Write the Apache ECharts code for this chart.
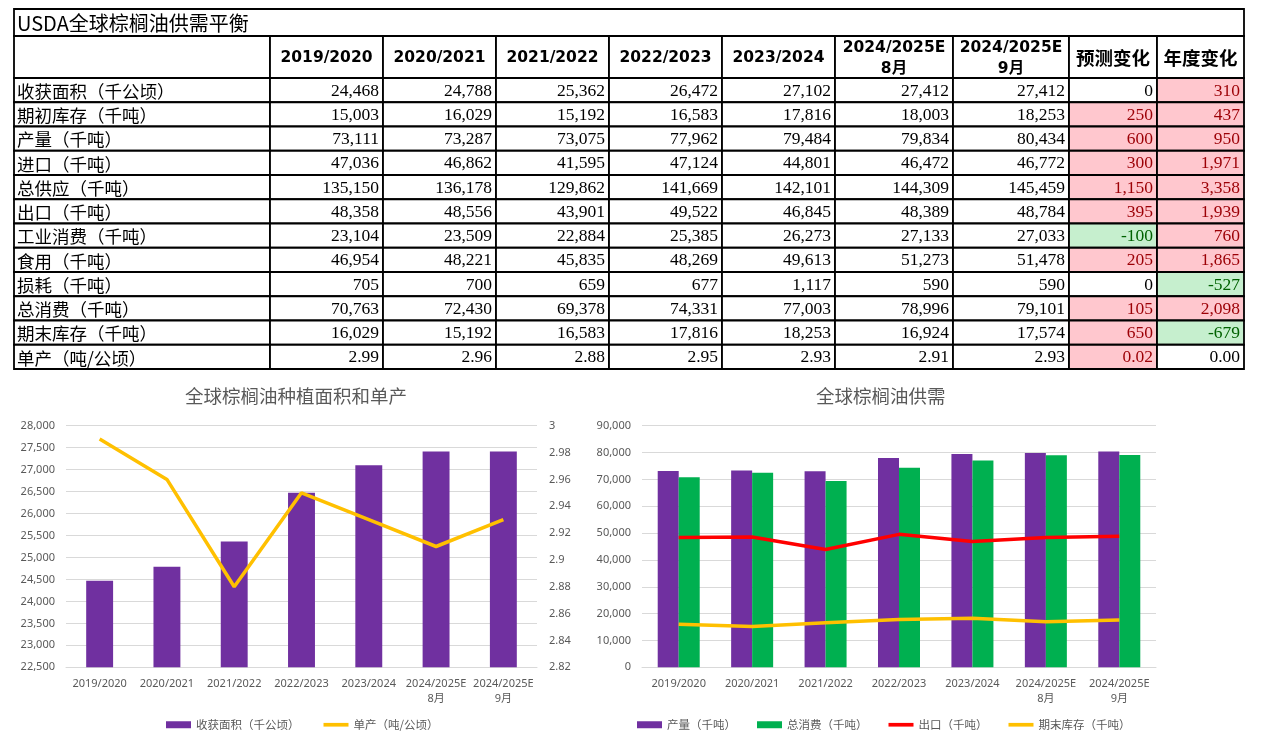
<!DOCTYPE html>
<html>
<head>
<meta charset="utf-8">
<script src="https://cdn.jsdelivr.net/npm/echarts@6/dist/echarts.min.js"></script>
<style>
html,body{margin:0;padding:0;background:#fff;}
#c{width:1263px;height:742px;}
</style>
</head>
<body>
<div id="c"></div>
<script>
// ---------------- data ----------------
const tableTitle = 'USDA全球棕榈油供需平衡';
const years = ['2019/2020', '2020/2021', '2021/2022', '2022/2023', '2023/2024', '2024/2025E\n8月', '2024/2025E\n9月'];
const changeHeaders = ['预测变化', '年度变化'];
const rowLabels = ['收获面积（千公顷）', '期初库存（千吨）', '产量（千吨）', '进口（千吨）', '总供应（千吨）', '出口（千吨）',
  '工业消费（千吨）', '食用（千吨）', '损耗（千吨）', '总消费（千吨）', '期末库存（千吨）', '单产（吨/公顷）'];
const area = [24468, 24788, 25362, 26472, 27102, 27412, 27412];
const beginStock = [15003, 16029, 15192, 16583, 17816, 18003, 18253];
const production = [73111, 73287, 73075, 77962, 79484, 79834, 80434];
const imports = [47036, 46862, 41595, 47124, 44801, 46472, 46772];
const totalSupply = [135150, 136178, 129862, 141669, 142101, 144309, 145459];
const exportsT = [48358, 48556, 43901, 49522, 46845, 48389, 48784];
const industrial = [23104, 23509, 22884, 25385, 26273, 27133, 27033];
const food = [46954, 48221, 45835, 48269, 49613, 51273, 51478];
const loss = [705, 700, 659, 677, 1117, 590, 590];
const totalConsumption = [70763, 72430, 69378, 74331, 77003, 78996, 79101];
const endStock = [16029, 15192, 16583, 17816, 18253, 16924, 17574];
const yieldPerHa = [2.99, 2.96, 2.88, 2.95, 2.93, 2.91, 2.93];
const forecastChange = [0, 250, 600, 300, 1150, 395, -100, 205, 0, 105, 650, 0.02];
const annualChange = [310, 437, 950, 1971, 3358, 1939, 760, 1865, -527, 2098, -679, 0.00];

const chart1Title = '全球棕榈油种植面积和单产';
const chart2Title = '全球棕榈油供需';
const chart1Legend = ['收获面积（千公顷）', '单产（吨/公顷）'];
const chart2Legend = ['产量（千吨）', '总消费（千吨）', '出口（千吨）', '期末库存（千吨）'];

// ---------------- table layout ----------------
const tableRows = [area, beginStock, production, imports, totalSupply, exportsT, industrial, food, loss, totalConsumption, endStock, yieldPerHa];
const COL_X = [14, 270, 383, 496, 609, 722, 835, 953, 1069, 1157, 1244];
const ROW_Y = [9, 36, 78];
for (let i = 1; i <= 12; i++) ROW_Y.push(78 + i * 24.25);

const CJK = '"Noto Sans CJK SC", sans-serif';
const NUMF = '"Liberation Serif", "Noto Sans CJK SC", serif';
const HEADF = '"DejaVu Sans", "Noto Sans CJK SC", sans-serif';

function fmt(v, dec) {
  if (dec) return v.toFixed(2);
  const s = Math.abs(v).toString().replace(/\B(?=(\d{3})+(?!\d))/g, ',');
  return (v < 0 ? '-' : '') + s;
}
function changeStyle(v) {
  if (v > 0) return { bg: '#FFC7CE', color: '#9C0006' };
  if (v < 0) return { bg: '#C6EFCE', color: '#006100' };
  return { bg: '#FFFFFF', color: '#000000' };
}

const cells = [];
cells.push({ box: [COL_X[0], ROW_Y[0], COL_X[10], ROW_Y[1]], text: tableTitle, align: 'left', size: 20, family: CJK, weight: 'normal', color: '#000', bg: '#fff' });
cells.push({ box: [COL_X[0], ROW_Y[1], COL_X[1], ROW_Y[2]], text: '', align: 'center', size: 16, family: HEADF, weight: 'bold', color: '#000', bg: '#fff' });
years.forEach((y, i) => {
  cells.push({ box: [COL_X[i + 1], ROW_Y[1], COL_X[i + 2], ROW_Y[2]], text: y, align: 'center', size: 15.5, family: HEADF, weight: 'bold', color: '#000', bg: '#fff', lh: 21 });
});
changeHeaders.forEach((h, i) => {
  cells.push({ box: [COL_X[i + 8], ROW_Y[1], COL_X[i + 9], ROW_Y[2]], text: h, align: 'center', size: 18.5, family: CJK, weight: 'bold', color: '#000', bg: '#fff' });
});
tableRows.forEach((row, r) => {
  const y0 = ROW_Y[r + 2], y1 = ROW_Y[r + 3];
  const dec = r === 11;
  cells.push({ box: [COL_X[0], y0, COL_X[1], y1], text: rowLabels[r], align: 'left', size: 17.5, family: CJK, weight: 'normal', color: '#000', bg: '#fff' });
  row.forEach((v, i) => {
    cells.push({ box: [COL_X[i + 1], y0, COL_X[i + 2], y1], text: fmt(v, dec), align: 'right', size: 17.5, family: NUMF, weight: 'normal', color: '#000', bg: '#fff' });
  });
  [forecastChange[r], annualChange[r]].forEach((v, k) => {
    const st = changeStyle(v);
    cells.push({ box: [COL_X[k + 8], y0, COL_X[k + 9], y1], text: fmt(v, dec), align: 'right', size: 17.5, family: NUMF, weight: 'normal', color: st.color, bg: st.bg });
  });
});

function renderCell(params, api) {
  const cell = cells[params.dataIndex];
  const p0 = api.coord([api.value(0), api.value(1)]);
  const p1 = api.coord([api.value(2), api.value(3)]);
  let tx;
  if (cell.align === 'left') tx = p0[0] + 3;
  else if (cell.align === 'right') tx = p1[0] - 4;
  else tx = (p0[0] + p1[0]) / 2;
  return {
    type: 'group',
    children: [
      { type: 'rect', shape: { x: p0[0], y: p0[1], width: p1[0] - p0[0], height: p1[1] - p0[1] },
        style: { fill: cell.bg, stroke: '#000', lineWidth: 1.8 } },
      { type: 'text', style: { text: cell.text, x: tx, y: (p0[1] + p1[1]) / 2 + 1, fill: cell.color,
        fontSize: cell.size, fontFamily: cell.family, fontWeight: cell.weight,
        align: cell.align, verticalAlign: 'middle', lineHeight: cell.lh || cell.size * 1.2 } }
    ]
  };
}

// ---------------- chart ----------------
const GRAY = '#595959';
const GRID_LINE = '#D9D9D9';
const AXF = '"Noto Sans", "Noto Sans CJK SC", sans-serif';
const LINE_ICON = 'path://M0,0H27V4H0Z';
const comma = v => String(v).replace(/\B(?=(\d{3})+(?!\d))/g, ',');

const catAxis = (gi) => ({
  type: 'category', gridIndex: gi, data: years,
  axisLine: { show: true, lineStyle: { color: GRID_LINE, width: 1 } },
  axisTick: { show: false },
  axisLabel: { color: GRAY, fontSize: 11, fontFamily: AXF, lineHeight: 15, margin: 9, interval: 0 }
});

const chart = echarts.init(document.getElementById('c'), null, { renderer: 'canvas' });
chart.setOption({
  animation: false,
  backgroundColor: '#fff',
  title: [
    { text: chart1Title, left: 185, top: 387, padding: 0,
      textStyle: { fontSize: 18.5, fontWeight: 'normal', color: GRAY, fontFamily: CJK } },
    { text: chart2Title, left: 816, top: 387, padding: 0,
      textStyle: { fontSize: 18.5, fontWeight: 'normal', color: GRAY, fontFamily: CJK } }
  ],
  legend: [
    { data: [{ name: chart1Legend[0], icon: 'rect' }, { name: chart1Legend[1], icon: LINE_ICON }], left: 166, top: 719,
      itemWidth: 25, itemHeight: 7, itemGap: 24, padding: 0, symbolKeepAspect: true,
      textStyle: { fontSize: 11.5, color: GRAY, fontFamily: CJK } },
    { data: [{ name: chart2Legend[0], icon: 'rect' }, { name: chart2Legend[1], icon: 'rect' },
             { name: chart2Legend[2], icon: LINE_ICON }, { name: chart2Legend[3], icon: LINE_ICON }],
      left: 637, top: 719, itemWidth: 25, itemHeight: 7, itemGap: 21, padding: 0, symbolKeepAspect: true,
      textStyle: { fontSize: 11.5, color: GRAY, fontFamily: CJK } }
  ],
  grid: [
    { left: 0, top: 0, width: 1263, height: 742, outerBoundsMode: 'none' },
    { left: 66, top: 425.7, width: 471, height: 241.6, outerBoundsMode: 'none' },
    { left: 642, top: 425.7, width: 514, height: 241.6, outerBoundsMode: 'none' }
  ],
  xAxis: [
    { type: 'value', gridIndex: 0, min: 0, max: 1263, show: false },
    catAxis(1),
    catAxis(2)
  ],
  yAxis: [
    { type: 'value', gridIndex: 0, min: 0, max: 742, inverse: true, show: false },
    { type: 'value', gridIndex: 1, min: 22500, max: 28000, interval: 500,
      axisLine: { show: false }, axisTick: { show: false },
      splitLine: { lineStyle: { color: GRID_LINE, width: 1 } },
      axisLabel: { color: GRAY, fontSize: 11, fontFamily: AXF, margin: 11, formatter: v => comma(v) } },
    { type: 'value', gridIndex: 1, position: 'right', min: 2.82, max: 3, interval: 0.02,
      axisLine: { show: false }, axisTick: { show: false }, splitLine: { show: false },
      axisLabel: { color: GRAY, fontSize: 11, fontFamily: AXF, margin: 12, formatter: v => String(+(+v).toFixed(2)) } },
    { type: 'value', gridIndex: 2, min: 0, max: 90000, interval: 10000,
      axisLine: { show: false }, axisTick: { show: false },
      splitLine: { lineStyle: { color: GRID_LINE, width: 1 } },
      axisLabel: { color: GRAY, fontSize: 11, fontFamily: AXF, margin: 11, formatter: v => comma(v) } }
  ],
  series: [
    { type: 'custom', name: 'table', xAxisIndex: 0, yAxisIndex: 0, clip: false, silent: true,
      renderItem: renderCell, encode: { x: [0, 2], y: [1, 3] },
      data: cells.map(c => c.box) },
    { type: 'bar', name: chart1Legend[0], xAxisIndex: 1, yAxisIndex: 1, data: area, barWidth: '40%',
      itemStyle: { color: '#7030A0' } },
    { type: 'line', name: chart1Legend[1], xAxisIndex: 1, yAxisIndex: 2, data: yieldPerHa, symbol: 'none',
      itemStyle: { color: '#FFC000' }, lineStyle: { color: '#FFC000', width: 3.5 } },
    { type: 'bar', name: chart2Legend[0], xAxisIndex: 2, yAxisIndex: 3, data: production, barWidth: '28.6%', barGap: '0%',
      itemStyle: { color: '#7030A0' } },
    { type: 'bar', name: chart2Legend[1], xAxisIndex: 2, yAxisIndex: 3, data: totalConsumption, barWidth: '28.6%', barGap: '0%',
      itemStyle: { color: '#00B050' } },
    { type: 'line', name: chart2Legend[2], xAxisIndex: 2, yAxisIndex: 3, data: exportsT, symbol: 'none',
      itemStyle: { color: '#FF0000' }, lineStyle: { color: '#FF0000', width: 3.5 } },
    { type: 'line', name: chart2Legend[3], xAxisIndex: 2, yAxisIndex: 3, data: endStock, symbol: 'none',
      itemStyle: { color: '#FFC000' }, lineStyle: { color: '#FFC000', width: 3.5 } }
  ]
});
</script>
</body>
</html>
